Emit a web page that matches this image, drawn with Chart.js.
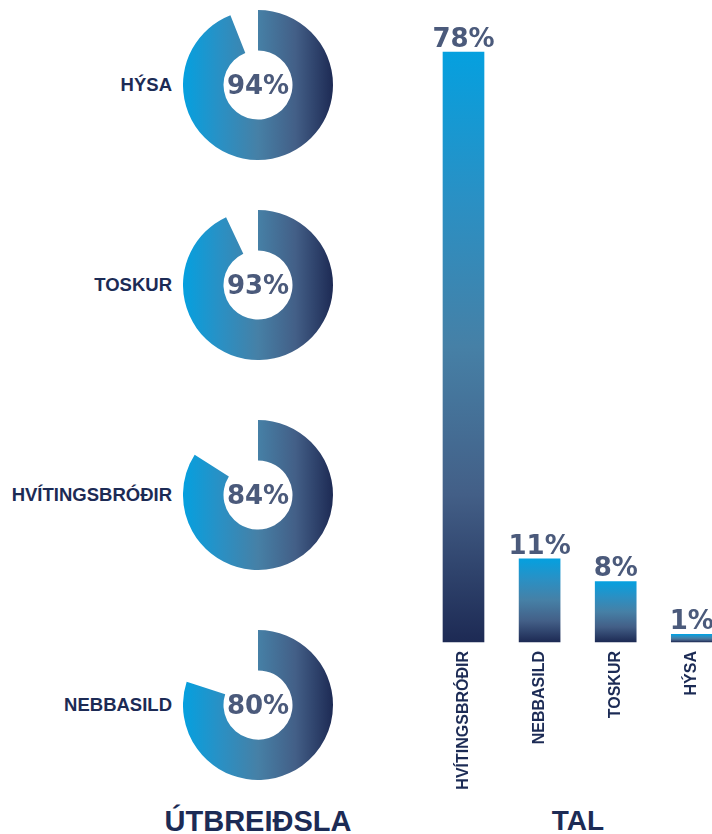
<!DOCTYPE html>
<html>
<head>
<meta charset="utf-8">
<script src="https://cdn.jsdelivr.net/npm/chart.js@4/dist/chart.umd.min.js"></script>
<style>
  body { margin: 0; background: #fff; overflow: hidden; }
  #page { position: relative; width: 712px; height: 834px; font-family: "Liberation Sans", Arial, sans-serif; }
  canvas { position: absolute; }
  .lbl { position: absolute; right: 540px; font-weight: bold; font-size: 18.5px; color: #1c2b55; line-height: 20px; white-space: nowrap; }
  .title { position: absolute; font-weight: bold; font-size: 29px; color: #1c2b55; line-height: 30px; white-space: nowrap; transform: translateX(-50%); }
</style>
</head>
<body>
<div id="page">
  <div class="title" style="left:258px; top:806px;">ÚTBREIÐSLA</div>
  <div class="title" style="left:578px; top:806px; font-size:28px;">TAL</div>
  <canvas id="barChart" width="292" height="834" style="left:420px; top:0;"></canvas>
</div>
<script>
const donutLabels = ['HÝSA', 'TOSKUR', 'HVÍTINGSBRÓÐIR', 'NEBBASILD'];
const donutValues = [94, 93, 84, 80];
const donutCentersY = [85, 285, 495, 705];

const barLabels = ['HVÍTINGSBRÓÐIR', 'NEBBASILD', 'TOSKUR', 'HÝSA'];
const barValues = [78, 11, 8, 1];

const gradStops = [
  [0, '#05a0df'],
  [0.25, '#2a90c4'],
  [0.5, '#4680a6'],
  [0.75, '#435f87'],
  [1, '#1d2a54']
];
const labelColor = '#1c2b55';
const valueColor = '#4b5a7b';
const valueFont = 'bold 26px "DejaVu Sans", Verdana, sans-serif';

function makeGradient(ctx, x0, y0, x1, y1) {
  const g = ctx.createLinearGradient(x0, y0, x1, y1);
  gradStops.forEach(s => g.addColorStop(s[0], s[1]));
  return g;
}

const page = document.getElementById('page');

// doughnuts on the left
donutValues.forEach((val, i) => {
  const cy = donutCentersY[i];

  const label = document.createElement('div');
  label.className = 'lbl';
  label.textContent = donutLabels[i];
  label.style.top = (cy - 10) + 'px';
  page.appendChild(label);

  const cv = document.createElement('canvas');
  cv.width = 150;
  cv.height = 150;
  cv.style.left = '183px';
  cv.style.top = (cy - 75) + 'px';
  page.appendChild(cv);

  new Chart(cv.getContext('2d'), {
    type: 'doughnut',
    data: {
      labels: [donutLabels[i], ''],
      datasets: [{
        data: [val, 100 - val],
        borderWidth: 0,
        backgroundColor: (c) => {
          const a = c.chart.chartArea;
          if (!a) return null;
          if (c.dataIndex === 1) return 'rgba(0,0,0,0)';
          return makeGradient(c.chart.ctx, a.left, 0, a.right, 0);
        }
      }]
    },
    options: {
      responsive: false,
      animation: false,
      cutout: '46%',
      events: [],
      plugins: { legend: { display: false }, tooltip: { enabled: false } }
    },
    plugins: [{
      id: 'centerText',
      afterDraw(chart) {
        const { ctx, chartArea } = chart;
        ctx.save();
        ctx.font = valueFont;
        ctx.fillStyle = valueColor;
        ctx.textAlign = 'center';
        ctx.textBaseline = 'middle';
        ctx.fillText(val + '%', (chartArea.left + chartArea.right) / 2, (chartArea.top + chartArea.bottom) / 2 + 2);
        ctx.restore();
      }
    }]
  });
});

// bar chart on the right
const barCtx = document.getElementById('barChart').getContext('2d');
new Chart(barCtx, {
  type: 'bar',
  data: {
    labels: barLabels,
    datasets: [{
      data: barValues,
      clip: false,
      barThickness: 41,
      borderWidth: 0,
      backgroundColor: (c) => {
        const chart = c.chart;
        if (!chart.chartArea) return null;
        const y = chart.scales.y;
        const top = y.getPixelForValue(barValues[c.dataIndex]);
        const base = y.getPixelForValue(0);
        return makeGradient(chart.ctx, 0, top, 0, base);
      }
    }]
  },
  options: {
    responsive: false,
    animation: false,
    events: [],
    layout: { padding: { left: 43.5, right: 18, top: 52, bottom: 0 } },
    plugins: { legend: { display: false }, tooltip: { enabled: false } },
    scales: {
      x: {
        offset: false,
        grid: { display: false },
        border: { display: false },
        afterFit: (s) => { s.height = 192; },
        ticks: {
          minRotation: 90,
          maxRotation: 90,
          padding: 1,
          color: labelColor,
          font: { family: '"Liberation Sans", Arial, sans-serif', size: 16, weight: 'bold' }
        }
      },
      y: { display: false, min: 0, max: 78 }
    }
  },
  plugins: [{
    id: 'barValues',
    afterDatasetsDraw(chart) {
      const { ctx } = chart;
      const meta = chart.getDatasetMeta(0);
      ctx.save();
      ctx.font = valueFont;
      ctx.fillStyle = valueColor;
      ctx.textAlign = 'center';
      ctx.textBaseline = 'alphabetic';
      meta.data.forEach((bar, i) => {
        ctx.fillText(barValues[i] + '%', bar.x, bar.y - 5);
      });
      ctx.restore();
    }
  }]
});
</script>
</body>
</html>
